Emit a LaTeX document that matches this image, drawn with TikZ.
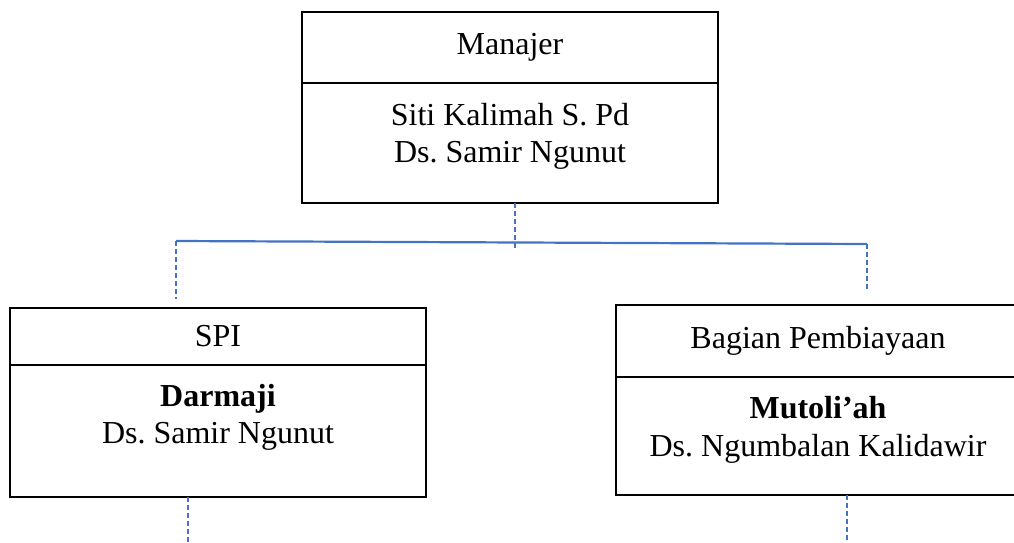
\documentclass[tikz,border=0pt]{standalone}
\usepackage{fontspec}
\setmainfont{Liberation Serif}
\frenchspacing
\usetikzlibrary{positioning}

\definecolor{linkblue}{RGB}{68,114,196}
\tikzstyle{head}=[draw,line width=1pt,rectangle,inner sep=0pt,outer sep=0pt,anchor=north west,font=\fontsize{16}{18.5}\selectfont]
\tikzstyle{body}=[draw,line width=1pt,rectangle,inner sep=0pt,outer sep=0pt]
\tikzstyle{person}=[font=\fontsize{16}{18.5}\selectfont,align=center,anchor=north,inner sep=0pt]
\tikzstyle{bar}=[draw,linkblue,line width=1.1pt]
\tikzstyle{link}=[draw,linkblue,line width=1.2pt,dash pattern=on 2.7pt off 1.3pt]
\newcommand{\pxscale}{0.5pt}

\begin{document}
\begin{tikzpicture}[x=\pxscale, y=-\pxscale]
    \useasboundingbox (0,0) rectangle (1014,542);
    % First we draw the boxes, a head part with the body part below it
    \foreach \pos/\unit/\bw/\hh/\bh/\ttl in {{(302,12)/manajer/208pt/35.5pt/60pt/Manajer},
        {(10,308)/spi/208pt/28.5pt/66pt/SPI}, {(616,305)/biaya/202pt/36pt/59pt/Bagian Pembiayaan}}
    {
        \node[head, minimum width=\bw, minimum height=\hh] (\unit) at \pos {\ttl};
        \node[body, minimum width=\bw, minimum height=\bh, below=0pt of \unit] (\unit body) {};
    }
    % Names and villages in the body parts
    \node[person] (manajertext) at ([yshift=-10pt]manajerbody.north) {Siti Kalimah S. Pd\\Ds. Samir Ngunut};
    \node[person] (spitext) at ([yshift=-9.5pt]spibody.north) {\textbf{Darmaji}\\Ds. Samir Ngunut};
    \node[person] (biayatext) at ([yshift=-9.5pt]biayabody.north) {\textbf{Mutoli’ah}\\[0.5pt]Ds. Ngumbalan Kalidawir};
    % Ends of the connectors
    \coordinate (lft) at (176,241);
    \coordinate (rgt) at (867,244);
    \coordinate (hub) at (515,249);
    \coordinate (lftend) at (176,299);
    \coordinate (rgtend) at (867,291);
    \coordinate (spiout) at (188,542);
    \coordinate (biayaout) at (847,542);
    % Connect the boxes
    \path[bar] (lft) -- (rgt);
    \foreach \nd/\dest in {manajerbody/hub, spibody/spiout, biayabody/biayaout}
        \path[link] (\nd.south -| \dest) -- (\dest);
    \foreach \source/\dest in {lft/lftend, rgt/rgtend}
        \path[link] (\source) -- (\dest);
\end{tikzpicture}
\end{document}
